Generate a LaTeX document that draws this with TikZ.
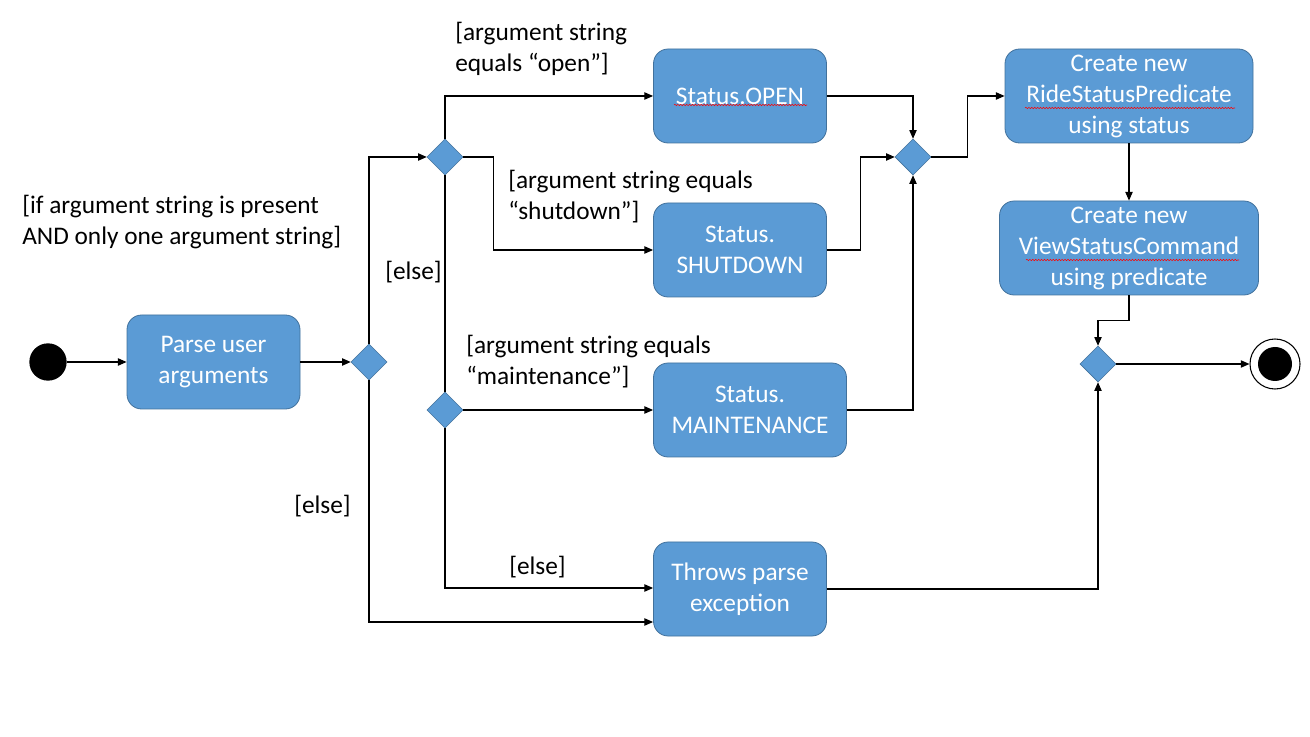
\documentclass[tikz,border=0pt]{standalone}
\usepackage{fontspec}
\setmainfont{Carlito}
\usepackage{tikz}
\definecolor{BoxBlue}{HTML}{5B9BD5}
\definecolor{BoxEdge}{HTML}{41719C}
\usetikzlibrary{shapes.geometric,arrows.meta,calc,decorations.pathmorphing}

\begin{document}
\begin{tikzpicture}[x=0.75pt,y=-0.75pt,>={Triangle[length=6.5pt,width=5.5pt]},
    font=\fontsize{19}{23.25}\selectfont,
    act/.style={rectangle, rounded corners=11pt, fill=BoxBlue, draw=BoxEdge, line width=0.6pt,
        text=white, align=center, minimum width=129.75pt, minimum height=70.5pt, inner sep=2pt},
    choice/.style={diamond, fill=BoxBlue, draw=BoxEdge, line width=0.4pt,
        minimum width=27pt, minimum height=27pt, inner sep=0pt},
    flow/.style={->, line width=0.8pt},
    link/.style={line width=0.8pt},
    spell/.style={red, line width=0.4pt, decorate, decoration={snake, amplitude=0.5pt, segment length=2.2pt}},
    guard/.style={anchor=base west, align=left, inner sep=0pt}]
    \useasboundingbox (0,0) rectangle (1310,737);

    % Start and end points
    \node[circle, fill=black, minimum size=28pt, inner sep=0pt] (start) at (48,362) {};
    \node[circle, draw, line width=0.8pt, minimum size=37.5pt, inner sep=0pt] (finish) at (1275,364) {};
    \node[circle, fill=black, minimum size=25.5pt, inner sep=0pt] (finishdot) at (1275,364) {};

    % Draw the activities
    \node[act] (parse) at (213.5,362) {Parse user\\arguments};
    \node[act] (open) at (740,96) {Status.OPEN};
    \node[act] (shut) at (740,250) {Status.\\SHUTDOWN};
    \node[act, minimum width=144.75pt] (maint) at (750,410) {Status.\\MAINTENANCE};
    \node[act] (throws) at (740,589) {Throws parse\\exception};
    \node[act, minimum width=186pt] (ride) at (1129,96) {Create new\\RideStatusPredicate\\using status};
    \node[act, minimum width=194.25pt] (view) at (1129,248) {Create new\\ViewStatusCommand\\using predicate};

    % spell check marks
    \draw[spell] ($(open.center)+(-66,9)$) -- ++(133,0);
    \draw[spell] ($(ride.center)+(-104,12)$) -- ++(210,0);
    \draw[spell] ($(view.center)+(-103,12)$) -- ++(213,0);

    % Draw the decision and merge nodes
    \node[choice] (d1) at (369,362) {};
    \node[choice] (d2) at (445,157) {};
    \node[choice] (d3) at (445,410) {};
    \node[choice] (d4) at (913,157) {};
    \node[choice] (d5) at (1098,364) {};

    % Draw the guards (base is the last line)
    \node[guard] (gpresent) at (22,245) {[if argument string is present\\AND only one argument string]};
    \node[guard] (gopen) at (455,72) {[argument string\\equals “open”]};
    \node[guard] (gshut) at (508,220) {[argument string equals\\“shutdown”]};
    \node[guard] (gmaint) at (466,385) {[argument string equals\\“maintenance”]};
    \foreach \x/\y[count=\c] in {385/280, 294/514, 509/574}{
        \node[guard] (gelse\c) at (\x,\y) {[else]};
    }

    % Connect the parser
    \draw[flow] (start) -- (parse);
    \draw[flow] (parse) -- (d1);
    \draw[flow] (d1.north) |- (d2.west);
    \draw[flow] (d1.south) |- ($(throws.west)+(0,33)$);

    % Branches on the argument string
    \draw[flow] (d2.north) |- (open.west);
    \draw[flow] (d2.east) -- ++(30,0) |- (shut.west);
    \draw[link] (d2.south) -- (d3.north);
    \draw[flow] (d3.east) -- (maint.west);
    \draw[flow] (d3.south) |- ($(throws.west)+(0,-1)$);

    % Merge the statuses
    \draw[flow] (open.east) -| (d4.north);
    \draw[flow] (shut.east) -- ++(34,0) |- (d4.west);
    \draw[flow] (maint.east) -| (d4.south);
    \draw[flow] (d4.east) -- ++(36,0) |- (ride.west);

    % Build the command and finish
    \draw[flow] (ride) -- (view);
    \draw[flow] (view.south) -- ++(0,25) -| (d5.north);
    \draw[flow] (throws.east) -| (d5.south);
    \draw[flow] (d5.east) -- (finish);
\end{tikzpicture}
\end{document}
